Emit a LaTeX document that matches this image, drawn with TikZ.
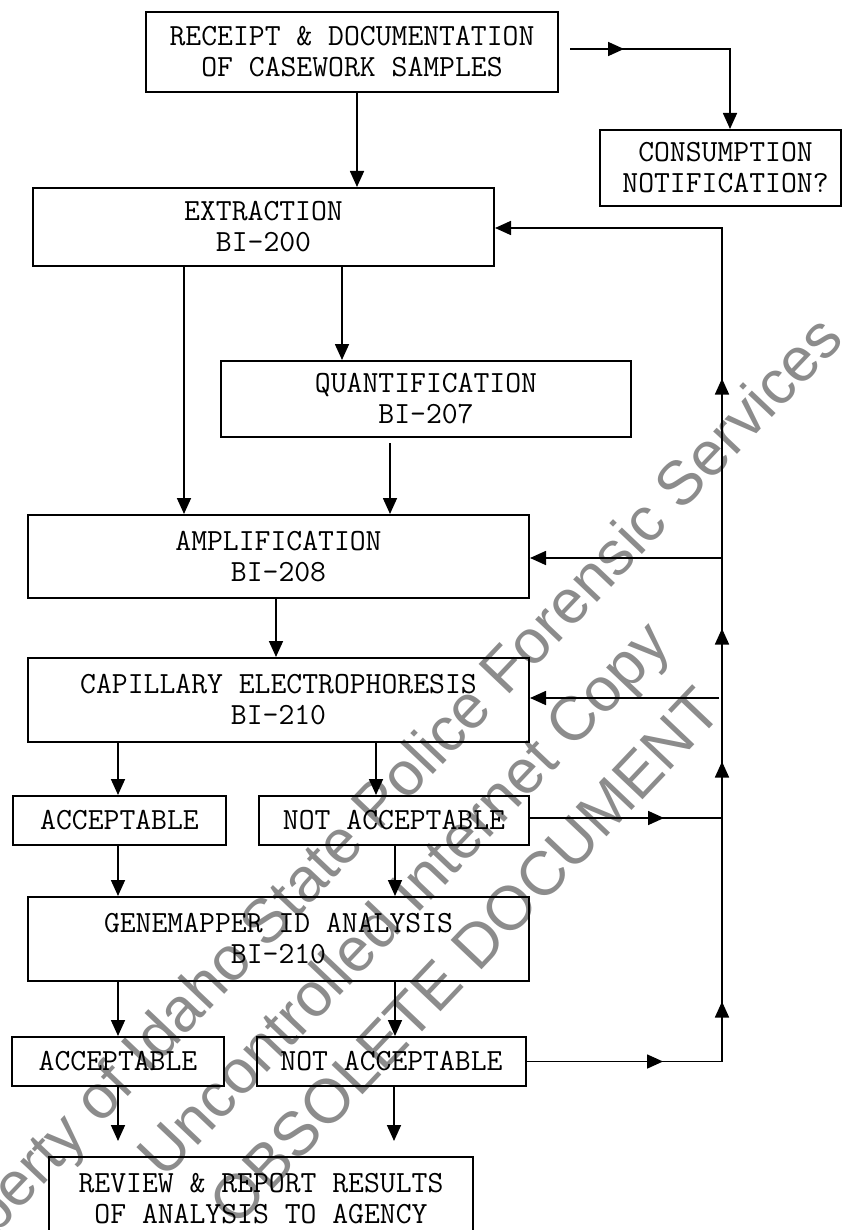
\documentclass[tikz,border=0pt]{standalone}
\usepackage{fontspec}
\newfontfamily\wmfont{Liberation Sans}
\usetikzlibrary{arrows.meta,decorations.markings}
\newcommand\boxfont{\ttfamily\fontsize{30.8}{31}\selectfont}
\tikzset{
  box/.style={draw, line width=2pt, inner sep=0pt, align=center, font=\boxfont},
  conn/.style={line width=1.7pt},
  arr/.style={conn, -{Triangle[length=16pt,width=14pt]}},
  wm/.style={font=\wmfont\fontsize{62}{64}\selectfont, text=black!45, inner sep=0pt, rotate=46.5},
}
\begin{document}
\begin{tikzpicture}[x=1pt,y=-1pt]
\useasboundingbox (0,0) rectangle (842,1230);
\clip (0,0) rectangle (842,1230);
% watermark
\node[wm] (w1) at (375,813) {Property of Idaho State Police Forensic Services};
\node[wm] (w2) at (407,902) {Uncontrolled Internet Copy};
\node[wm] (w3) at (465,956) {OBSOLETE DOCUMENT};
% boxes
\node[box, minimum width=412pt, minimum height=80pt] (rec) at (352,52) {RECEIPT \& DOCUMENTATION\\OF CASEWORK SAMPLES};
\node[box, minimum width=241pt, minimum height=76pt] (con) at (720.5,168) {\hspace*{10pt}CONSUMPTION\\\hspace*{10pt}NOTIFICATION?};
\node[box, minimum width=461pt, minimum height=78pt] (ext) at (263.5,227) {EXTRACTION\\BI-200};
\node[box, minimum width=410pt, minimum height=76pt] (qua) at (426,399) {QUANTIFICATION\\BI-207};
\node[box, minimum width=501pt, minimum height=83pt] (amp) at (278.5,556.5) {AMPLIFICATION\\BI-208};
\node[box, minimum width=501pt, minimum height=84pt] (ce) at (278.5,700) {CAPILLARY ELECTROPHORESIS\\BI-210};
\node[box, minimum width=213pt, minimum height=49pt] (acc1) at (119.5,820.5) {ACCEPTABLE};
\node[box, minimum width=270pt, minimum height=49pt] (na1) at (394,820.5) {NOT ACCEPTABLE};
\node[box, minimum width=501pt, minimum height=84pt] (gm) at (278.5,939) {GENEMAPPER ID ANALYSIS\\BI-210};
\node[box, minimum width=212pt, minimum height=49pt] (acc2) at (118,1061.5) {ACCEPTABLE};
\node[box, minimum width=269pt, minimum height=49pt] (na2) at (391.5,1061.5) {NOT ACCEPTABLE};
\node[box, minimum width=424pt, minimum height=83pt] (rev) at (261,1198.5) {REVIEW \& REPORT RESULTS\\OF ANALYSIS TO AGENCY};
% coordinates of the return bus
\coordinate (busB) at (722,1061.5);
\coordinate (busT) at (722,228);
\coordinate (bA) at (722,558);
\coordinate (bC) at (719,698);
% main flow
\draw[arr] (rec.south -| 357,0) -- (ext.north -| 357,0);
\draw[arr, postaction={decorate}, decoration={markings, mark=at position 54pt with {\arrow{Triangle[length=16pt,width=14pt]}}}]
  ([xshift=11pt,yshift=3pt]rec.east) -| (con.north -| 730,0);
\draw[arr] (ext.south -| 342,0) -- (qua.north -| 342,0);
\draw[arr] (ext.south -| 184,0) -- (amp.north -| 184,0);
\draw[arr] ([yshift=-5pt]qua.south -| 390,0) -- (amp.north -| 390,0);
\draw[arr] (amp.south -| 276,0) -- (ce.north -| 276,0);
\draw[arr] (ce.south -| 118,0) -- (acc1.north -| 118,0);
\draw[arr] (ce.south -| 376,0) -- (na1.north -| 376,0);
\draw[arr] (acc1.south -| 118,0) -- (gm.north -| 118,0);
\draw[arr] (na1.south -| 395,0) -- (gm.north -| 395,0);
\draw[arr] (gm.south -| 118,0) -- (acc2.north -| 118,0);
\draw[arr] (gm.south -| 395,0) -- (na2.north -| 395,0);
\draw[arr] (acc2.south -| 118,0) -- ([yshift=15pt]rev.north -| 118,0);
\draw[arr] (na2.south -| 394,0) -- ([yshift=15pt]rev.north -| 394,0);
% return bus
\draw[arr, postaction={decorate}, decoration={markings,
   mark=at position 136pt with {\arrow{Triangle[length=16pt,width=14pt]}},
   mark=at position 255pt with {\arrow{Triangle[length=16pt,width=14pt]}},
   mark=at position 495pt with {\arrow{Triangle[length=16pt,width=14pt]}},
   mark=at position 628pt with {\arrow{Triangle[length=16pt,width=14pt]}},
   mark=at position 878pt with {\arrow{Triangle[length=16pt,width=14pt]}}}]
  (na2.east) -- (busB) -- (busT) -- (ext.east |- busT);
\draw[conn, postaction={decorate}, decoration={markings, mark=at position 134pt with {\arrow{Triangle[length=16pt,width=14pt]}}}]
  ([yshift=2.5pt]na1.east) -- ([yshift=2.5pt]na1.east -| busT);
\draw[arr] (bA) -- (amp.east |- bA);
\draw[arr] (bC) -- (ce.east |- bC);
\end{tikzpicture}
\end{document}
